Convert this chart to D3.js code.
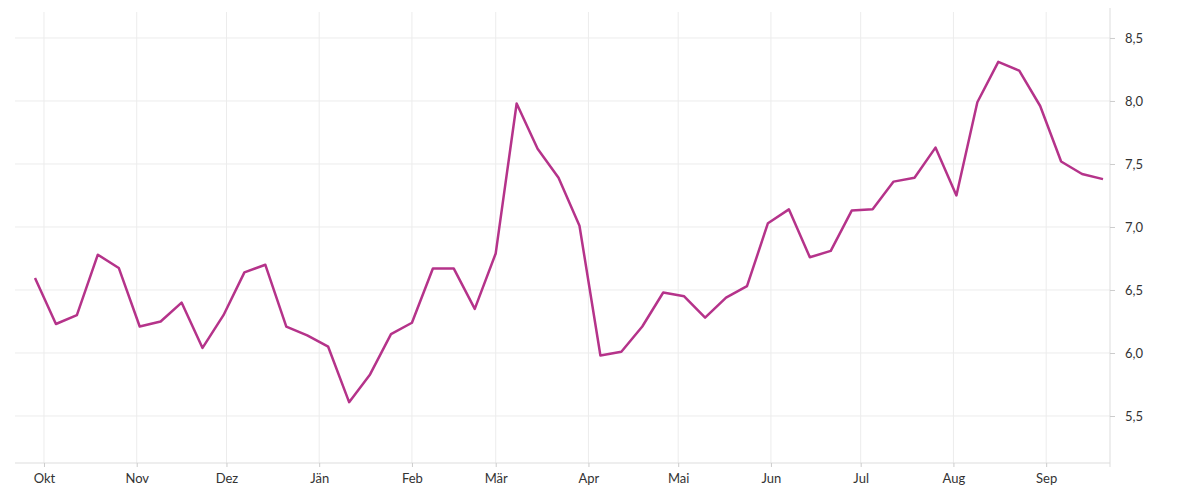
<!DOCTYPE html><html><head><meta charset="utf-8">
<script src="https://cdn.jsdelivr.net/npm/d3@7"></script>
<style>body{margin:0;background:#fff}text{font-family:Lato,"Noto Sans",sans-serif;font-size:13px;fill:#333}</style></head><body>
<svg id="c" width="1200" height="500"></svg>
<script>
const startDate = "2020-09-28";
const values = [6.595,6.23,6.30,6.78,6.675,6.21,6.25,6.40,6.04,6.30,6.64,6.70,6.21,6.14,6.05,5.61,5.83,6.15,6.24,6.67,6.67,6.35,6.79,7.98,7.62,7.39,7.01,5.98,6.01,6.21,6.48,6.45,6.28,6.44,6.53,7.03,7.14,6.76,6.81,7.13,7.14,7.36,7.39,7.63,7.25,7.99,8.31,8.24,7.96,7.52,7.42,7.38];
const monthLabels = ["Okt","Nov","Dez","Jän","Feb","Mär","Apr","Mai","Jun","Jul","Aug","Sep"];
const yTicks = [5.5,6.0,6.5,7.0,7.5,8.0,8.5];

const svg = d3.select("#c");
const s0 = d3.timeParse("%Y-%m-%d")(startDate);
const data = values.map((v,i)=>({d:d3.timeDay.offset(s0,7*i),v}));
const x = d3.scaleTime().domain([s0, data[data.length-1].d]).range([35,1103]);
const y = d3.scaleLinear().domain([5.127,8.706]).range([463,12]);
const months = d3.timeMonth.range(new Date(2020,9,1), new Date(2021,9,1));
const fmt = d=>monthLabels[(d.getMonth()+3)%12];

svg.append("g").selectAll("line").data(yTicks).join("line")
 .attr("x1",15).attr("x2",1110).attr("y1",d=>y(d)).attr("y2",d=>y(d)).attr("stroke","#ececec");
svg.append("g").selectAll("line").data(months).join("line")
 .attr("x1",d=>x(d)).attr("x2",d=>x(d)).attr("y1",12).attr("y2",463).attr("stroke","#ececec");
svg.append("line").attr("x1",15).attr("x2",1110).attr("y1",463).attr("y2",463).attr("stroke","#ddd");
svg.append("line").attr("x1",1110).attr("x2",1110).attr("y1",8).attr("y2",467).attr("stroke","#ddd");

const xa = svg.append("g").attr("transform","translate(0,463)")
 .call(d3.axisBottom(x).tickValues(months).tickFormat(fmt).tickSize(4).tickPadding(7));
xa.select(".domain").remove(); xa.selectAll("line").attr("stroke","#ccc");
xa.selectAll("text").attr("font-size",13).attr("fill","#333");
const ya = svg.append("g").attr("transform","translate(1110,0)")
 .call(d3.axisRight(y).tickValues(yTicks).tickFormat(d=>d3.format(".1f")(d).replace(".",",")).tickSize(5).tickPadding(10));
ya.select(".domain").remove(); ya.selectAll("line").attr("stroke","#ccc");
ya.selectAll("text").attr("font-size",13).attr("fill","#333");

svg.append("path").datum(data).attr("fill","none").attr("stroke","#b5338a").attr("stroke-width",2.5)
 .attr("stroke-linejoin","round").attr("d",d3.line().x(d=>x(d.d)).y(d=>y(d.v)));
</script></body></html>
